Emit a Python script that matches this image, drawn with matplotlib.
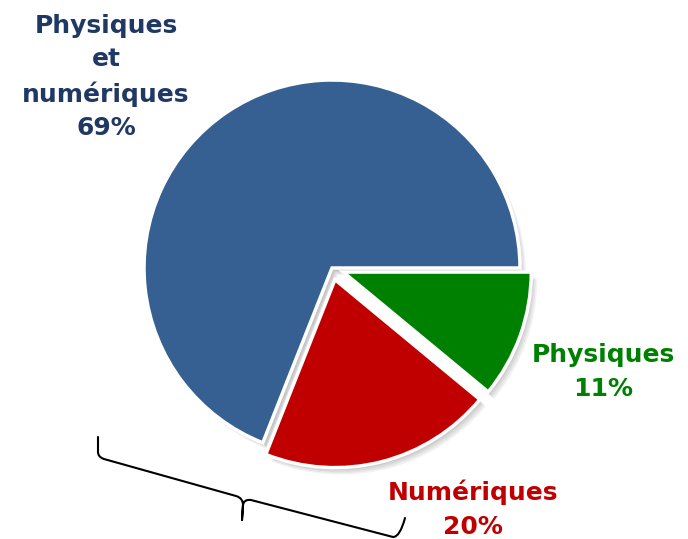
import matplotlib
matplotlib.use('Agg')
import matplotlib.pyplot as plt
from matplotlib.path import Path
from matplotlib.patches import PathPatch

# Shares of the three groups (percent)
labels = ['Physiques\net\nnumériques', 'Numériques', 'Physiques']
values = [69, 20, 11]
colors = ['#376092', '#C00000', '#008000']
label_colors = ['#1F3864', '#C00000', '#008000']

W, H = 688, 539
fig = plt.figure(figsize=(W / 100, H / 100), dpi=100)
ax = fig.add_axes([0, 0, 1, 1])
ax.set_xlim(0, W)
ax.set_ylim(0, H)
ax.set_aspect('equal')
ax.axis('off')

cx, cy, r = 332, H - 268, 188
explode = [0, 12, 12]

# soft shadow, mostly toward the lower right
for k in range(5):
    ax.pie(values, explode=explode, center=(cx + 2 + k, cy - 3 - k), radius=r - 2 + k * 0.5,
           startangle=0, counterclock=True, colors=['black'] * 3,
           wedgeprops=dict(alpha=0.05, linewidth=0))

ax.pie(values, explode=explode, center=(cx, cy), radius=r,
       startangle=0, counterclock=True, colors=colors,
       wedgeprops=dict(edgecolor='white', linewidth=2.5))
ax.set_xlim(0, W)
ax.set_ylim(0, H)

font = dict(family='DejaVu Sans', fontweight='bold', fontsize=18,
            ha='center', va='center', linespacing=1.5)
ax.text(106, H - 77, f"{labels[0]}\n{values[0]}%", color=label_colors[0], **font)
ax.text(473, H - 509, f"{labels[1]}\n{values[1]}%", color=label_colors[1], **font)
ax.text(603, H - 372, f"{labels[2]}\n{values[2]}%", color=label_colors[2], **font)

# curly brace below the pie
pts = [(98, 437), (98, 452), (98, 457), (104, 459),
       (236, 496), (243, 498), (243, 505), (242, 520),
       (243, 505), (244, 499), (251, 500),
       (393, 537), (400, 537), (405, 518)]
codes = [Path.MOVETO, Path.LINETO, Path.CURVE3, Path.CURVE3,
         Path.LINETO, Path.CURVE3, Path.CURVE3, Path.LINETO,
         Path.LINETO, Path.CURVE3, Path.CURVE3,
         Path.LINETO, Path.CURVE3, Path.CURVE3]
brace = Path([(x, H - y) for x, y in pts], codes)
ax.add_patch(PathPatch(brace, facecolor='none', edgecolor='black',
                       linewidth=1.5, joinstyle='round', capstyle='round'))

fig.savefig('out.png', dpi=100)
